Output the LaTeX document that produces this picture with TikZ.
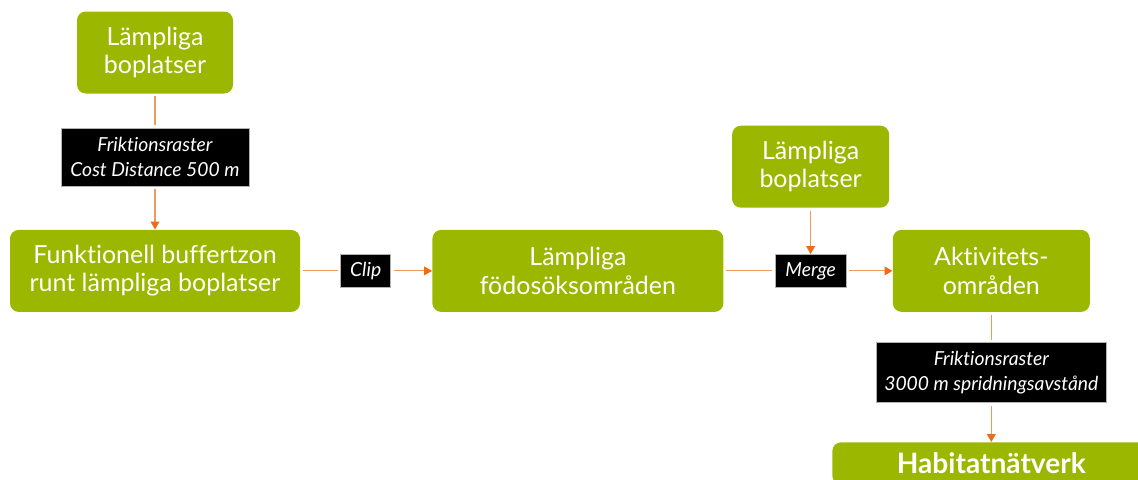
\documentclass[tikz,border=0pt]{standalone}
\usepackage{fontspec}
\setmainfont{Lato}[Ligatures=NoCommon]
\usepackage{xcolor}
\usetikzlibrary{arrows.meta,positioning}
\definecolor{leaf}{RGB}{155,183,0}
\definecolor{rust}{RGB}{234,110,25}

\begin{document}
\begin{tikzpicture}[font=\fontsize{14.2}{16}\selectfont, box/.style={fill=leaf, text=white, rounded corners=5pt, align=center, minimum height=1.64cm, inner sep=2pt}, tag/.style={fill=black, draw=gray!60, text=white, font=\fontsize{11}{14}\selectfont\itshape, align=center, minimum height=0.66cm, inner sep=2pt}, ln/.style={draw=rust!70, line width=0.6pt, shorten <=1.5pt, shorten >=1.5pt}, arr/.style={-{Triangle[length=4.5pt,width=5pt,color=rust]}, draw=rust!70, line width=0.6pt, shorten <=1.5pt}]
\useasboundingbox (0,0) rectangle (22.76,-9.58);
\node[box, minimum width=3.12cm] (nest) at (3.1,-1.05) {Lämpliga\\boplatser};
\node[tag, below=0.68cm of nest, minimum width=3.76cm, minimum height=1.16cm] (cost) {Friktionsraster\\Cost Distance 500 m};
\node[box, below=0.86cm of cost, minimum width=5.8cm] (buffer) {Funktionell buffertzon\\runt lämpliga boplatser};
\node[tag, right=0.8cm of buffer, minimum width=1cm] (clip) {Clip};
\node[box, right=0.82cm of clip, minimum width=5.82cm] (forage) {Lämpliga\\födosöksområden};
\node[tag, right=1.02cm of forage, minimum width=1.42cm] (merge) {Merge};
\node[box, above=0.92cm of merge, minimum width=3.14cm] (nest2) {Lämpliga\\boplatser};
\node[box, right=0.92cm of merge, minimum width=3.94cm] (activity) {Aktivitets-\\områden};
\node[tag, below=0.6cm of activity, minimum width=4.6cm, minimum height=1.2cm] (spread) {Friktionsraster\\3000 m spridningsavstånd};
\node[box, below=0.78cm of spread, minimum width=6.36cm, minimum height=0.84cm, font=\fontsize{16}{18}\selectfont\bfseries] (habitat) {Habitatnätverk};
\draw[ln] (nest) -- (cost);
\draw[arr] (cost) -- (buffer);
\draw[ln] (buffer) -- (clip);
\draw[arr] (clip) -- (forage);
\draw[ln] (forage) -- (merge);
\draw[arr] (merge) -- (activity);
\draw[arr] (nest2) -- (merge);
\draw[ln] (activity) -- (spread);
\draw[arr] (spread) -- (habitat);
\end{tikzpicture}
\end{document}
